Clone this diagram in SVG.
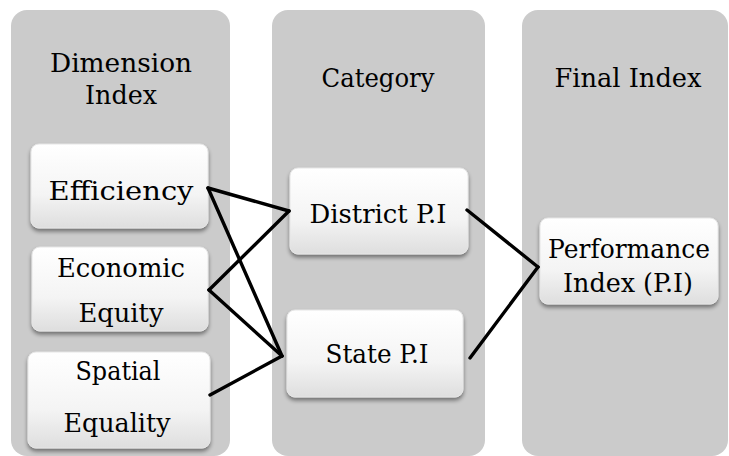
<svg xmlns="http://www.w3.org/2000/svg" width="729" height="456" viewBox="0 0 729 456">
<defs>
<linearGradient id="boxg" x1="0" y1="0" x2="0" y2="1">
<stop offset="0" stop-color="#ffffff"/>
<stop offset="0.6" stop-color="#f4f4f4"/>
<stop offset="1" stop-color="#dedede"/>
</linearGradient>
<filter id="sh" x="-10%" y="-10%" width="120%" height="130%">
<feGaussianBlur in="SourceAlpha" stdDeviation="2"/>
<feOffset dx="0" dy="3" result="b"/>
<feComponentTransfer><feFuncA type="linear" slope="0.45"/></feComponentTransfer>
<feMerge><feMergeNode/><feMergeNode in="SourceGraphic"/></feMerge>
</filter>
</defs>
<style>
.panel{fill:#cbcbcb}
.box{fill:url(#boxg);stroke:#e6e6e6;stroke-width:1;filter:url(#sh)}
.t{font-family:"DejaVu Serif","Liberation Serif",serif;font-size:26px;fill:#000;text-anchor:middle}
.conn line{stroke:#000;stroke-width:3.4;stroke-linecap:round}
</style>
<rect width="729" height="456" fill="#ffffff"/>
<g id="panel-dimension">
<rect class="panel" x="11" y="10" width="219" height="446" rx="16"/>
<text class="t" x="121" y="72" textLength="142" lengthAdjust="spacingAndGlyphs">Dimension</text>
<text class="t" x="121" y="104" textLength="72" lengthAdjust="spacingAndGlyphs">Index</text>
</g>
<g id="panel-category">
<rect class="panel" x="272" y="10" width="213" height="446" rx="16"/>
<text class="t" x="378" y="87" textLength="113" lengthAdjust="spacingAndGlyphs">Category</text>
</g>
<g id="panel-final">
<rect class="panel" x="522" y="10" width="206" height="446" rx="16"/>
<text class="t" x="628" y="87" textLength="147" lengthAdjust="spacingAndGlyphs">Final Index</text>
</g>
<g id="node-efficiency">
<rect class="box" x="31" y="144" width="177" height="84" rx="8"/>
<text class="t" x="121" y="200" textLength="145" lengthAdjust="spacingAndGlyphs">Efficiency</text>
</g>
<g id="node-economic-equity">
<rect class="box" x="32" y="247" width="176" height="84" rx="8"/>
<text class="t" x="121" y="277" textLength="128" lengthAdjust="spacingAndGlyphs">Economic</text>
<text class="t" x="121" y="322" textLength="85" lengthAdjust="spacingAndGlyphs">Equity</text>
</g>
<g id="node-spatial-equality">
<rect class="box" x="28" y="352" width="182" height="96" rx="8"/>
<text class="t" x="118" y="380" textLength="85" lengthAdjust="spacingAndGlyphs">Spatial</text>
<text class="t" x="117" y="432" textLength="107" lengthAdjust="spacingAndGlyphs">Equality</text>
</g>
<g id="node-district">
<rect class="box" x="290" y="168" width="178" height="86" rx="8"/>
<text class="t" x="378" y="223" textLength="137" lengthAdjust="spacingAndGlyphs">District P.I</text>
</g>
<g id="node-state">
<rect class="box" x="287" y="310" width="176" height="87" rx="8"/>
<text class="t" x="377" y="363" textLength="103" lengthAdjust="spacingAndGlyphs">State P.I</text>
</g>
<g id="node-performance">
<rect class="box" x="540" y="218" width="178" height="86" rx="8"/>
<text class="t" x="629" y="258" textLength="162" lengthAdjust="spacingAndGlyphs">Performance</text>
<text class="t" x="628" y="292" textLength="130" lengthAdjust="spacingAndGlyphs">Index (P.I)</text>
</g>
<g id="connectors" class="conn">
<line x1="208" y1="188" x2="289" y2="211"/>
<line x1="208" y1="188" x2="282" y2="356"/>
<line x1="209" y1="290" x2="289" y2="211"/>
<line x1="209" y1="290" x2="282" y2="356"/>
<line x1="210" y1="395" x2="282" y2="356"/>
<line x1="467" y1="210" x2="538" y2="267"/>
<line x1="470" y1="358" x2="538" y2="267"/>
</g>
</svg>
